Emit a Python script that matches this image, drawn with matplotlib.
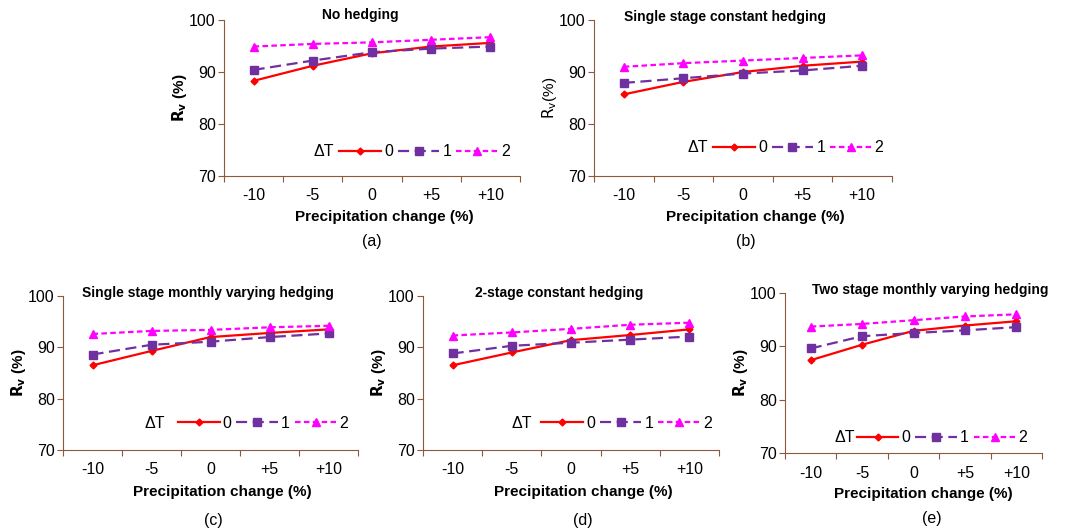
import matplotlib.pyplot as plt

plt.rcParams['font.family'] = ['Liberation Sans', 'DejaVu Sans']

categories = ['-10', '-5', '0', '+5', '+10']
dT_labels = ['0', '1', '2']

titles = ['No hedging', 'Single stage constant hedging',
          'Single stage monthly varying hedging', '2-stage constant hedging',
          'Two stage monthly varying hedging']
panel_tags = ['(a)', '(b)', '(c)', '(d)', '(e)']

# Rv (%) per panel, rows = dT 0, 1, 2
rv_a = [[88.3, 91.2, 93.6, 94.9, 95.6],
        [90.4, 92.2, 93.8, 94.5, 94.9],
        [94.9, 95.4, 95.7, 96.2, 96.7]]
rv_b = [[85.7, 88.1, 90.0, 91.2, 92.0],
        [87.9, 88.8, 89.7, 90.3, 91.2],
        [91.0, 91.7, 92.2, 92.7, 93.2]]
rv_c = [[86.5, 89.3, 92.0, 92.8, 93.5],
        [88.6, 90.5, 91.1, 92.0, 92.7],
        [92.6, 93.2, 93.4, 93.9, 94.2]]
rv_d = [[86.5, 89.0, 91.4, 92.4, 93.5],
        [88.8, 90.3, 90.9, 91.5, 92.1],
        [92.3, 92.9, 93.6, 94.4, 94.8]]
rv_e = [[87.4, 90.3, 92.9, 93.9, 94.7],
        [89.6, 91.9, 92.5, 93.0, 93.6],
        [93.7, 94.2, 94.9, 95.6, 96.0]]
all_rv = [rv_a, rv_b, rv_c, rv_d, rv_e]

colors = ['#ff0000', '#7030a0', '#ff00ff']
styles = ['-', (0, (5, 2.5)), (0, (2.5, 1.5))]
markers = ['D', 's', '^']
msizes = [3.5, 5.5, 5.5]
axis_col = '#8b5a3c'

W, H = 1067, 531
# left, right, top, bottom in pixels
boxes = [(224, 520, 20, 176), (594, 892, 20, 176),
         (63, 358, 296, 450), (423, 719, 296, 450), (785, 1042, 293, 453)]
# dT text right x, legend start x, legend y (axes fraction)
leg_pos = [(0.372, 0.39, 0.154), (0.383, 0.40, 0.18),
           (0.346, 0.39, 0.175), (0.368, 0.40, 0.175), (0.272, 0.28, 0.094)]
# title x, title y (axes fraction)
title_pos = [(0.46, 1.03), (0.44, 1.02), (0.49, 1.02), (0.46, 1.02), (0.564, 1.02)]
# panel tag x, y
tag_pos = [(0.50, -0.42), (0.51, -0.42), (0.51, -0.455), (0.54, -0.455), (0.57, -0.41)]
xlabel_y = [-0.22, -0.22, -0.227, -0.227, -0.21]

fig = plt.figure(figsize=(W / 100, H / 100), dpi=100)

for i in range(5):
    l, r, t, b = boxes[i]
    ax = fig.add_axes([l / W, 1 - b / H, (r - l) / W, (b - t) / H])
    x = range(len(categories))
    for k in range(3):
        ax.plot(x, all_rv[i][k], color=colors[k], linestyle=styles[k],
                marker=markers[k], markersize=msizes[k], linewidth=1.6,
                label=dT_labels[k])
    ax.set_xlim(-0.5, 4.5)
    ax.set_ylim(70, 100)
    ax.set_yticks([70, 80, 90, 100])
    ax.set_xticks([v - 0.5 for v in range(6)])
    ax.set_xticklabels([])
    ax.set_xticks(list(x), minor=True)
    ax.set_xticklabels(categories, minor=True)
    ax.tick_params(axis='x', which='minor', length=0, pad=9, labelsize=11.5)
    ax.tick_params(axis='x', which='major', length=4, color=axis_col, direction='out')
    ax.tick_params(axis='y', length=4, color=axis_col, labelsize=11.5, pad=2)
    for s in ['top', 'right']:
        ax.spines[s].set_visible(False)
    for s in ['left', 'bottom']:
        ax.spines[s].set_color(axis_col)
    ax.set_xlabel('Precipitation change (%)', fontsize=11, fontweight='bold')
    ax.xaxis.set_label_coords(0.54, xlabel_y[i])
    ax.set_ylabel(r'$\mathbf{R_v}$ (%)' if i != 1 else r'$\mathrm{R_v}$(%)',
                  fontsize=11, fontweight='bold' if i != 1 else 'normal', labelpad=0)
    ax.text(title_pos[i][0], title_pos[i][1], titles[i], transform=ax.transAxes,
            ha='center', va='center', fontsize=10, fontweight='bold')
    tx, lx, ly = leg_pos[i]
    ax.text(tx, ly, '\u0394T', transform=ax.transAxes, ha='right', va='center', fontsize=11.5)
    ax.legend(loc='center left', bbox_to_anchor=(lx, ly), ncol=3, frameon=False,
              fontsize=11.5, handlelength=2.6, handletextpad=0.2, columnspacing=0.3,
              borderpad=0, borderaxespad=0)
    ax.text(tag_pos[i][0], tag_pos[i][1], panel_tags[i], transform=ax.transAxes,
            ha='center', va='center', fontsize=11.5)

fig.savefig('out.png', dpi=100)
